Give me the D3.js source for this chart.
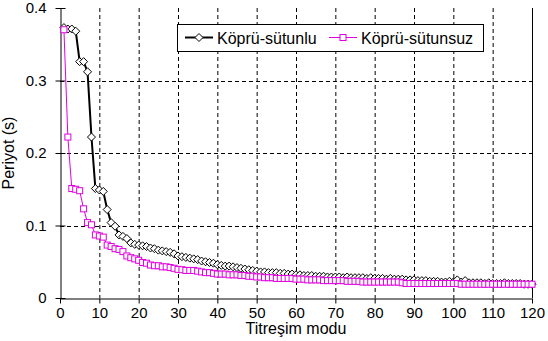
<!DOCTYPE html>
<html><head><meta charset="utf-8">
<script src="https://cdn.jsdelivr.net/npm/d3@7"></script>
<style>body{margin:0;background:#fff}svg{display:block;font-family:"Liberation Sans",Arial,sans-serif}</style>
</head><body><svg id="c" width="548" height="341"></svg>
<script>
const modes = d3.range(1, 121);
const withColumns = [
0.373,0.371,0.371,0.368,0.326,0.326,0.312,0.222,0.151,0.149,
0.147,0.122,0.104,0.099,0.087,0.085,0.082,0.076,0.074,0.073,
0.072,0.071,0.069,0.068,0.066,0.065,0.064,0.063,0.061,0.058,
0.057,0.056,0.055,0.054,0.053,0.051,0.050,0.049,0.048,0.046,
0.045,0.044,0.044,0.043,0.042,0.041,0.040,0.039,0.038,0.037,
0.036,0.036,0.035,0.035,0.035,0.034,0.034,0.033,0.033,0.032,
0.032,0.031,0.031,0.031,0.030,0.030,0.030,0.029,0.029,0.029,
0.029,0.028,0.029,0.028,0.028,0.028,0.028,0.027,0.028,0.027,
0.027,0.027,0.026,0.027,0.026,0.026,0.026,0.025,0.025,0.025,
0.024,0.024,0.024,0.023,0.023,0.023,0.022,0.022,0.023,0.022,
0.025,0.022,0.024,0.021,0.021,0.021,0.021,0.020,0.021,0.020,
0.020,0.020,0.021,0.020,0.020,0.020,0.020,0.019,0.019,0.019];
const withoutColumns = [
0.370,0.222,0.151,0.150,0.148,0.123,0.104,0.101,0.087,0.0855,
0.084,0.073,0.071,0.068,0.067,0.064,0.058,0.0556,0.054,0.052,
0.049,0.048,0.0455,0.0445,0.0445,0.043,0.043,0.042,0.041,0.0395,
0.039,0.038,0.038,0.038,0.037,0.036,0.035,0.035,0.034,0.033,
0.033,0.033,0.032,0.032,0.032,0.031,0.031,0.030,0.030,0.029,
0.029,0.028,0.028,0.028,0.027,0.027,0.027,0.027,0.027,0.026,
0.026,0.026,0.025,0.025,0.025,0.025,0.024,0.024,0.024,0.024,
0.024,0.024,0.023,0.023,0.023,0.023,0.022,0.022,0.022,0.022,
0.022,0.022,0.022,0.022,0.022,0.022,0.021,0.020,0.020,0.020,
0.020,0.020,0.020,0.020,0.020,0.020,0.020,0.020,0.020,0.020,
0.020,0.019,0.019,0.019,0.019,0.019,0.019,0.019,0.019,0.019,
0.019,0.019,0.019,0.019,0.019,0.019,0.019,0.019,0.019,0.019];
const xTicks = d3.range(0, 121, 10);
const yTicks = [0, 0.1, 0.2, 0.3, 0.4];
const seriesNames = ["Köprü-sütunlu", "Köprü-sütunsuz"];
const xTitle = "Titreşim modu";
const yTitle = "Periyot (s)";

const svg = d3.select("#c");
const L = 60, R = 532, T = 8, B = 298;
const x = d3.scaleLinear().domain([0, 120]).range([L, R]);
const y = d3.scaleLinear().domain([0, 0.4]).range([B, T]);
const MAG = "#E000E0";

// grid
const g = svg.append("g");
g.selectAll(".vg").data(xTicks.filter(d => d > 0 && d < 120)).join("line")
  .attr("x1", d => x(d) + 0.5).attr("x2", d => x(d) + 0.5).attr("y1", T).attr("y2", B)
  .attr("stroke", "#000").attr("stroke-dasharray", "4,3");
g.selectAll(".hg").data(yTicks.filter(d => d > 0 && d < 0.4)).join("line")
  .attr("x1", L).attr("x2", R).attr("y1", d => Math.round(y(d)) + 0.5).attr("y2", d => Math.round(y(d)) + 0.5)
  .attr("stroke", "#000").attr("stroke-dasharray", "4,3");
// right border
svg.append("line").attr("x1", R + 0.5).attr("x2", R + 0.5).attr("y1", T).attr("y2", B).attr("stroke", "#000");

// axes
const xAxis = svg.append("g").attr("transform", `translate(0,${B + 0.5})`)
  .call(d3.axisBottom(x).tickValues(xTicks).tickSize(5).tickPadding(4).tickSizeOuter(0));
const yAxis = svg.append("g").attr("transform", `translate(${L + 0.5},0)`)
  .call(d3.axisLeft(y).tickValues(yTicks).tickSize(10).tickPadding(3).tickFormat(d => d === 0 ? "0" : d3.format(".1f")(d)).tickSizeOuter(0));
yAxis.selectAll(".tick line").attr("x1", 5).attr("x2", -5);
[xAxis, yAxis].forEach(a => {
  a.select(".domain").attr("stroke", "#000");
  a.selectAll(".tick line").attr("stroke", "#000");
  a.selectAll("text").attr("font-size", 15).attr("fill", "#000").attr("font-family", "Liberation Sans, Arial, sans-serif");
});
yAxis.selectAll("text").attr("x", -14);

// series
const line = d3.line().x((d, i) => x(modes[i])).y(d => y(d));
svg.append("path").datum(withColumns).attr("d", line).attr("fill", "none").attr("stroke", "#000").attr("stroke-width", 2);
svg.append("g").selectAll("path").data(withColumns).join("path")
  .attr("transform", (d, i) => `translate(${x(modes[i])},${y(d)})`)
  .attr("d", "M0,-4L4,0L0,4L-4,0Z").attr("fill", "#fff").attr("stroke", "#000").attr("stroke-width", 1);
svg.append("path").datum(withoutColumns).attr("d", line).attr("fill", "none").attr("stroke", MAG).attr("stroke-width", 1);
svg.append("g").selectAll("rect").data(withoutColumns).join("rect")
  .attr("x", (d, i) => x(modes[i]) - 3).attr("y", d => y(d) - 3).attr("width", 6).attr("height", 6)
  .attr("fill", "#fff").attr("stroke", MAG).attr("stroke-width", 1);

// legend
const lg = svg.append("g");
lg.append("rect").attr("x", 177.5).attr("y", 24.5).attr("width", 306).attr("height", 27).attr("fill", "#fff").attr("stroke", "#000");
const ly = 37.5;
lg.append("line").attr("x1", 185).attr("x2", 213).attr("y1", ly).attr("y2", ly).attr("stroke", "#000").attr("stroke-width", 2);
lg.append("path").attr("transform", `translate(199,${ly})`).attr("d", "M0,-4L4,0L0,4L-4,0Z").attr("fill", "#fff").attr("stroke", "#000");
lg.append("text").attr("x", 217).attr("y", ly + 6).attr("font-size", 16).text(seriesNames[0]);
lg.append("line").attr("x1", 329).attr("x2", 357).attr("y1", ly).attr("y2", ly).attr("stroke", MAG).attr("stroke-width", 1);
lg.append("rect").attr("x", 340).attr("y", ly - 3).attr("width", 6).attr("height", 6).attr("fill", "#fff").attr("stroke", MAG);
lg.append("text").attr("x", 361).attr("y", ly + 6).attr("font-size", 16).text(seriesNames[1]);

// titles
svg.append("text").attr("x", (L + R) / 2).attr("y", 334).attr("text-anchor", "middle").attr("font-size", 16).text(xTitle);
svg.append("text").attr("transform", `translate(14,${(T + B) / 2}) rotate(-90)`).attr("text-anchor", "middle").attr("font-size", 16).text(yTitle);
</script></body></html>
